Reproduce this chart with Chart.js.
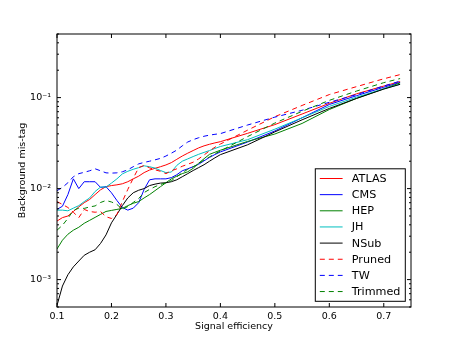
<!DOCTYPE html>
<html>
<head>
<meta charset="utf-8">
<script src="https://cdn.jsdelivr.net/npm/chart.js@4/dist/chart.umd.min.js"></script>
<style>
  html, body { margin: 0; padding: 0; background: #fff; }
  canvas { display: block; }
</style>
</head>
<body>
<canvas id="chart" width="457" height="343"></canvas>
<script>
// signal efficiency grid shared by all curves
const effs = [0.10, 0.11, 0.12, 0.13, 0.14, 0.15, 0.16, 0.17, 0.18, 0.19,
  0.20, 0.21, 0.22, 0.23, 0.24, 0.25, 0.26, 0.27, 0.28, 0.29,
  0.30, 0.31, 0.32, 0.33, 0.34, 0.35, 0.36, 0.37, 0.38, 0.39,
  0.40, 0.45, 0.50, 0.55, 0.60, 0.65, 0.70, 0.73];

// background mis-tag rate per tagger
const atlas = [0.0044, 0.0048, 0.0050, 0.0056, 0.0063, 0.0070, 0.0076, 0.0086, 0.0097, 0.0105,
  0.0108, 0.0110, 0.0113, 0.0119, 0.0128, 0.0137, 0.0150, 0.0160, 0.0167, 0.0174,
  0.0182, 0.0193, 0.0210, 0.0228, 0.0245, 0.0262, 0.0280, 0.0295, 0.0307, 0.0318,
  0.0328, 0.0405, 0.0505, 0.066, 0.0865, 0.110, 0.134, 0.150];
const cms = [0.0059, 0.0064, 0.0086, 0.0128, 0.0100, 0.0119, 0.0119, 0.0119, 0.0103, 0.0105,
  0.0090, 0.0074, 0.0062, 0.0058, 0.0061, 0.0070, 0.0098, 0.0125, 0.0128, 0.0128,
  0.0128, 0.0132, 0.0142, 0.0157, 0.0165, 0.0174, 0.0185, 0.0202, 0.0220, 0.0237,
  0.0253, 0.0325, 0.0430, 0.060, 0.084, 0.105, 0.130, 0.147];
const hep = [0.00217, 0.00271, 0.00315, 0.00349, 0.00376, 0.00416, 0.00448, 0.00483, 0.00521, 0.00561,
  0.00576, 0.00591, 0.00606, 0.0065, 0.0069, 0.0072, 0.0079, 0.0086, 0.0095, 0.0105,
  0.0116, 0.0128, 0.0137, 0.0146, 0.0153, 0.0167, 0.0190, 0.0213, 0.0238, 0.0251,
  0.0264, 0.0330, 0.0398, 0.052, 0.074, 0.098, 0.125, 0.145];
const jh = [0.0058, 0.0058, 0.0057, 0.0061, 0.0065, 0.0072, 0.0079, 0.0093, 0.0104, 0.0104,
  0.0115, 0.0128, 0.0145, 0.0155, 0.0163, 0.0170, 0.0178, 0.0174, 0.0168, 0.0158,
  0.0150, 0.0152, 0.0180, 0.0200, 0.0212, 0.0225, 0.0238, 0.0250, 0.0262, 0.0276,
  0.0290, 0.0345, 0.0450, 0.060, 0.080, 0.101, 0.125, 0.140];
const nsub = [0.00052, 0.00085, 0.00113, 0.00138, 0.00160, 0.00185, 0.00200, 0.00213, 0.0025, 0.0031,
  0.0042, 0.0052, 0.0065, 0.0079, 0.0090, 0.0096, 0.0100, 0.0108, 0.0112, 0.0115,
  0.0116, 0.0119, 0.0125, 0.0135, 0.0146, 0.0158, 0.0170, 0.0183, 0.0200, 0.0218,
  0.0236, 0.0303, 0.0420, 0.057, 0.076, 0.098, 0.124, 0.140];
const pruned = [0.0072, 0.0067, 0.0062, 0.0055, 0.0048, 0.0059, 0.0056, 0.0055, 0.0056, 0.0049,
  0.0047, 0.0052, 0.0072, 0.0098, 0.0130, 0.0170, 0.0180, 0.0169, 0.0161, 0.0155,
  0.0146, 0.0157, 0.0165, 0.0176, 0.0185, 0.0195, 0.0212, 0.0234, 0.0260, 0.0285,
  0.0309, 0.0439, 0.0617, 0.082, 0.108, 0.132, 0.161, 0.179];
const tw = [0.0095, 0.0103, 0.0116, 0.0135, 0.0146, 0.0151, 0.0157, 0.0165, 0.0157, 0.0149,
  0.0148, 0.0149, 0.0153, 0.0161, 0.0174, 0.0187, 0.0194, 0.0200, 0.0207, 0.0215,
  0.0228, 0.0245, 0.0265, 0.0295, 0.0325, 0.0345, 0.0362, 0.0376, 0.0387, 0.0395,
  0.0402, 0.0500, 0.0610, 0.0726, 0.0888, 0.108, 0.134, 0.152];
const trimmed = [0.00349, 0.00395, 0.00471, 0.00576, 0.0061, 0.00606, 0.00629, 0.00645, 0.00704, 0.0074,
  0.00713, 0.0067, 0.00591, 0.00636, 0.00704, 0.00778, 0.00905, 0.0098, 0.0105, 0.0111,
  0.0116, 0.0122, 0.0135, 0.0149, 0.0163, 0.0174, 0.0187, 0.0207, 0.0223, 0.0241,
  0.0259, 0.0373, 0.0525, 0.0707, 0.0933, 0.118, 0.146, 0.162];

const names = ['ATLAS', 'CMS', 'HEP', 'JH', 'NSub', 'Pruned', 'TW', 'Trimmed'];
const series = [atlas, cms, hep, jh, nsub, pruned, tw, trimmed];
const colors = ['#ff0000', '#0000ff', '#008000', '#00bfbf', '#000000', '#ff0000', '#0000ff', '#008000'];
const dashed = [false, false, false, false, false, true, true, true];

const xTicks = [0.1, 0.2, 0.3, 0.4, 0.5, 0.6, 0.7];
const xTickLabels = ['0.1', '0.2', '0.3', '0.4', '0.5', '0.6', '0.7'];
const yTicks = [0.001, 0.01, 0.1];
const yTickLabels = ['10\u207B\u00B3', '10\u207B\u00B2', '10\u207B\u00B9'];

const FONT = 'DejaVu Sans';
const DASH = [5, 4];

// matplotlib-style box with inward ticks on all four sides
const framePlugin = {
  id: 'frame',
  afterDatasetsDraw(chart) {
    const { ctx, chartArea: a, scales } = chart;
    const x = scales.x, y = scales.y;
    ctx.save();
    ctx.strokeStyle = '#000';
    ctx.lineWidth = 1;
    ctx.strokeRect(a.left, a.top, a.right - a.left, a.bottom - a.top);

    ctx.beginPath();
    xTicks.forEach(v => {
      const px = x.getPixelForValue(v);
      ctx.moveTo(px, a.bottom); ctx.lineTo(px, a.bottom - 4);
      ctx.moveTo(px, a.top); ctx.lineTo(px, a.top + 4);
    });
    yTicks.forEach(v => {
      const py = y.getPixelForValue(v);
      ctx.moveTo(a.left, py); ctx.lineTo(a.left + 4, py);
      ctx.moveTo(a.right, py); ctx.lineTo(a.right - 4, py);
    });
    // minor ticks
    for (let e = -4; e <= 0; e++) {
      for (let k = 2; k <= 9; k++) {
        const v = k * Math.pow(10, e);
        if (v < y.min || v > y.max) continue;
        const py = y.getPixelForValue(v);
        ctx.moveTo(a.left, py); ctx.lineTo(a.left + 2, py);
        ctx.moveTo(a.right, py); ctx.lineTo(a.right - 2, py);
      }
    }
    ctx.stroke();
    ctx.restore();
  },
  afterDraw(chart) {
    // legend in the lower right corner of the axes
    const { ctx, chartArea: a } = chart;
    const ds = chart.data.datasets;
    const right = a.right - 5.7, bottom = a.bottom - 5.7;
    const left = right - 90;
    const rowH = 16.15;
    const top = bottom - (ds.length * rowH - 5.7 + 9);
    ctx.save();
    ctx.fillStyle = '#fff';
    ctx.fillRect(left, top, right - left, bottom - top);
    ctx.strokeStyle = '#000';
    ctx.lineWidth = 1;
    ctx.strokeRect(left, top, right - left, bottom - top);
    ctx.font = '11.2px "' + FONT + '"';
    ctx.textBaseline = 'middle';
    ctx.textAlign = 'left';
    ds.forEach((d, i) => {
      const cy = top + 4.5 + 5.2 + i * rowH;
      ctx.beginPath();
      ctx.strokeStyle = d.borderColor;
      ctx.lineWidth = 1;
      ctx.setLineDash(d.borderDash || []);
      ctx.moveTo(left + 4.5, cy);
      ctx.lineTo(left + 27.3, cy);
      ctx.stroke();
      ctx.setLineDash([]);
      ctx.fillStyle = '#000';
      ctx.fillText(d.label, left + 36.5, cy + 0.5);
    });
    ctx.restore();
  }
};

const datasets = names.map((name, i) => ({
  label: name,
  data: effs.map((e, j) => ({ x: e, y: series[i][j] })),
  borderColor: colors[i],
  borderWidth: 1,
  borderDash: dashed[i] ? DASH : [],
  pointRadius: 0,
  tension: 0,
  fill: false,
  order: names.length - i
}));

const tickFont = { family: FONT, size: 9.5 };

new Chart(document.getElementById('chart'), {
  type: 'line',
  data: { datasets },
  options: {
    responsive: false,
    animation: false,
    layout: { padding: { top: 34, right: 46, left: 0, bottom: 0 } },
    plugins: { legend: { display: false }, tooltip: { enabled: false } },
    scales: {
      x: {
        type: 'linear',
        min: 0.1,
        max: 0.75,
        afterBuildTicks: s => { s.ticks = xTicks.map(v => ({ value: v })); },
        afterFit: s => { s.height = 36; },
        grid: { display: false, drawTicks: false },
        border: { display: false },
        ticks: {
          callback: (v, i) => xTickLabels[i],
          font: tickFont, color: '#000', padding: 4,
          maxRotation: 0, autoSkip: false
        },
        title: {
          display: true, text: 'Signal efficiency',
          font: tickFont, color: '#000',
          padding: { top: 0, bottom: 10.6 }
        }
      },
      y: {
        type: 'logarithmic',
        min: 0.0005,
        max: 0.5,
        afterBuildTicks: s => { s.ticks = yTicks.map(v => ({ value: v })); },
        afterFit: s => { s.width = 57; },
        grid: { display: false, drawTicks: false },
        border: { display: false },
        ticks: {
          callback: (v, i) => yTickLabels[i],
          font: tickFont, color: '#000', padding: 6, autoSkip: false
        },
        title: {
          display: true, text: 'Background mis-tag',
          font: tickFont, color: '#000',
          padding: { top: 17, bottom: 0 }
        }
      }
    }
  },
  plugins: [framePlugin]
});
</script>
</body>
</html>
